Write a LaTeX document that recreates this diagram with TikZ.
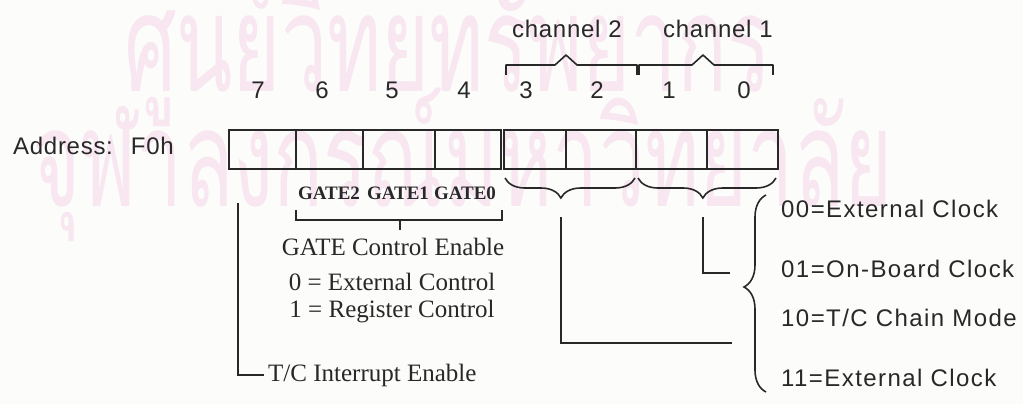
\documentclass[tikz,border=0pt]{standalone}
\usepackage{fontspec}
\usepackage{graphicx}
\usetikzlibrary{decorations.pathreplacing}
\setmainfont{Liberation Serif}
\newfontfamily\labfont{Liberation Sans}[LetterSpace=3]
\newfontfamily\rlabfont{Liberation Sans}[LetterSpace=6]
\newfontfamily\thaiwm[Script=Thai]{Loma}
\definecolor{ink}{RGB}{40,40,40}
\definecolor{wm}{RGB}{248,230,240}
\definecolor{paper}{RGB}{252,252,250}
\tikzset{
  sanslab/.style={font=\labfont\fontsize{24}{28}\selectfont, text=ink, inner sep=0pt},
  rightlab/.style={font=\rlabfont\fontsize{24}{28}\selectfont, text=ink, inner sep=0pt, anchor=west},
  serlab/.style={font=\fontsize{25}{29}\selectfont, text=ink, inner sep=0pt},
  gatelab/.style={font=\bfseries\fontsize{19}{22}\selectfont, text=ink, inner sep=0pt},
  wmark/.style={font=\thaiwm\fontsize{135}{135}\selectfont, text=wm, inner sep=0pt, anchor=base west},
  cell/.style={draw=ink, line width=1.6pt, minimum height=39pt, inner sep=0pt},
  wire/.style={draw=ink, line width=1.6pt},
  brc/.style={wire, decorate}
}
\begin{document}
\begin{tikzpicture}[x=1pt,y=-1pt]
\fill[paper] (0,0) rectangle (1023,404);
\useasboundingbox (0,0) rectangle (1023,404);
% watermark
\node[wmark] (wm1) at (124,92) {\scalebox{0.61}[1]{ศูนย์วิทยทรัพยากร}};
\node[wmark] (wm2) at (32,206) {\scalebox{0.61}[1]{จุฬาลงกรณ์มหาวิทยาลัย}};
% register cells
\node[cell, minimum width=67pt] (c7) at (262.5,149.5) {};
\node[cell, minimum width=67pt] (c6) at (329.5,149.5) {};
\node[cell, minimum width=72pt] (c5) at (399,149.5) {};
\node[cell, minimum width=66pt] (c4) at (468,149.5) {};
\node[cell, minimum width=62pt] (c3) at (535,149.5) {};
\node[cell, minimum width=70pt] (c2) at (601,149.5) {};
\node[cell, minimum width=71pt] (c1) at (671.5,149.5) {};
\node[cell, minimum width=71pt] (c0) at (742.5,149.5) {};
% bit numbers
\node[sanslab] (n7) at (258,90) {7};
\node[sanslab] (n6) at (322,90) {6};
\node[sanslab] (n5) at (392,90) {5};
\node[sanslab] (n4) at (464,90) {4};
\node[sanslab] (n3) at (526,90) {3};
\node[sanslab] (n2) at (597,90) {2};
\node[sanslab] (n1) at (669,90) {1};
\node[sanslab] (n0) at (744,90) {0};
% labels
\node[sanslab, anchor=west] (addr) at (13,146) {Address:\hspace{18pt}F0h};
\node[sanslab] (ch2) at (567,29) {channel\hspace{8pt}2};
\node[sanslab] (ch1) at (718,29) {channel\hspace{8pt}1};
% top channel brackets
\draw[wire, line join=round] (506,75) |- (555,65) -- (566,55) -- (577,65) -| (637,75);
\draw[wire, line join=round] (639,75) |- (692,65) -- (703,55) -- (714,65) -| (773,75);
% gate labels
\node[gatelab] (g2) at (329,193) {GATE2};
\node[gatelab] (g1) at (398,193) {GATE1};
\node[gatelab] (g0) at (465,193) {GATE0};
\coordinate (gl) at (296,210);
\coordinate (gr) at (502,210);
\coordinate (gm) at (400,220);
\draw[wire] (gl) |- (gm) -| (gr);
\draw[wire] (gm) -- ++(0,10);
\node[serlab] (gce) at (393,247) {GATE Control Enable};
\node[serlab] (ext) at (392,282) {0 = External Control};
\node[serlab] (reg) at (392,312) {1 = Register Control};
\node[serlab, anchor=west] (tci) at (268,375) {T/C Interrupt Enable};
% bit 7 line
\coordinate (b7) at (238,203);
\draw[wire] (b7) |- ([xshift=-4pt]tci.west);
% lower braces
\draw[brc, decoration={brace, mirror, amplitude=20pt, aspect=0.43}] (505,178) -- (635,178);
\draw[brc, decoration={brace, mirror, amplitude=20pt, aspect=0.47}] (638,178) -- (776,178);
% big brace
\draw[brc, decoration={brace, amplitude=22pt, aspect=0.533}] (766,392) -- (766,195);
% right labels
\node[rightlab] (m00) at (781,209) {00=External Clock};
\node[rightlab] (m01) at (781,269) {01=On-Board Clock};
\node[rightlab] (m10) at (781,318) {10=T/C Chain Mode};
\node[rightlab] (m11) at (781,378) {11=External Clock};
% channel lines
\coordinate (s2) at (561,217);
\coordinate (e2) at (732,343);
\coordinate (s1) at (703,217);
\coordinate (e1) at (730,273);
\draw[wire] (s2) |- (e2);
\draw[wire] (s1) |- (e1);
\end{tikzpicture}
\end{document}
